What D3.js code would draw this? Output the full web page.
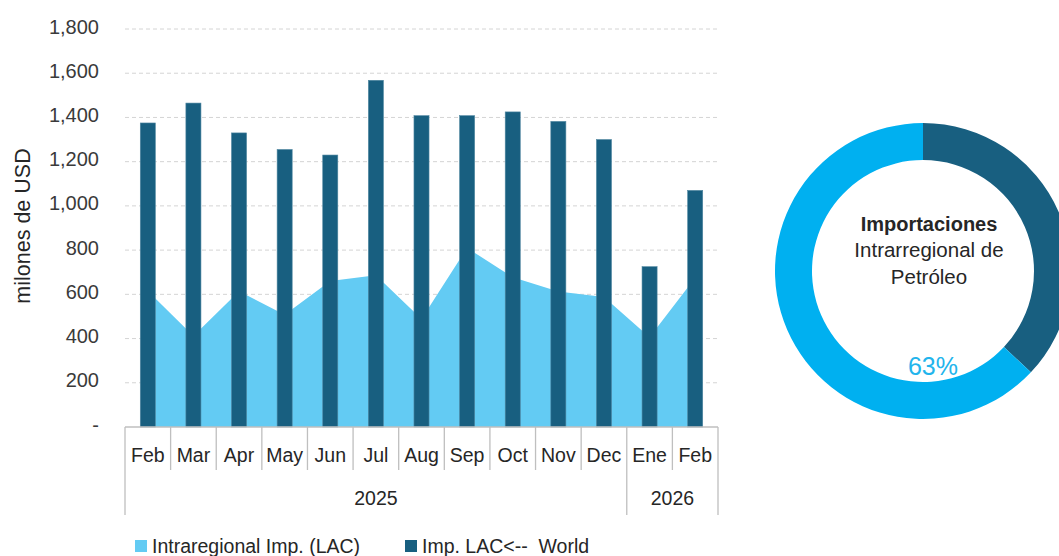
<!DOCTYPE html>
<html>
<head>
<meta charset="utf-8">
<script src="https://cdn.jsdelivr.net/npm/d3@7"></script>
<style>
  html, body { margin: 0; padding: 0; background: #ffffff; }
  svg { display: block; }
  text { font-family: "Liberation Sans", Arial, sans-serif; }
</style>
</head>
<body>
<svg id="chart" width="1059" height="556"></svg>
<script>
// ---------------- data ----------------
const months = ["Feb","Mar","Apr","May","Jun","Jul","Aug","Sep","Oct","Nov","Dec","Ene","Feb"];
const years  = ["2025","2025","2025","2025","2025","2025","2025","2025","2025","2025","2025","2026","2026"];
const worldImports = [1375,1465,1330,1255,1230,1568,1408,1408,1425,1382,1300,725,1070];
const intraImports = [615,412,614,508,660,686,488,810,677,613,588,406,675];
const yTicks = [0,200,400,600,800,1000,1200,1400,1600,1800];
const seriesNames = ["Intraregional Imp. (LAC)", "Imp. LAC<--  World"];
const donutNames = ["Resto", "Intrarregional"];
const donutValues = [37, 63];
const donutLabel = "63%";
const donutTitle = ["Importaciones", "Intrarregional de", "Petróleo"];
const yTitle = "milones de USD";

// ---------------- styles ----------------
const colDark = "#185f80";
const colArea = "#63cbf3";
const colRing = "#00b0f0";
const colPct = "#22b4ec";
const colText = "#262626";

const svg = d3.select("#chart");
const keys = months.map((m, i) => years[i] + "-" + m);

const x = d3.scaleBand().domain(keys).range([125, 718]).padding(0);
const y = d3.scaleLinear().domain([0, 1800]).range([427, 29]);

// gridlines
svg.append("g").selectAll("line")
  .data(yTicks.filter(t => t > 0))
  .join("line")
  .attr("x1", 125).attr("x2", 718)
  .attr("y1", d => y(d)).attr("y2", d => y(d))
  .attr("stroke", "#d4d4d4").attr("stroke-width", 1)
  .attr("stroke-dasharray", "4,3");

// area (intraregional)
const area = d3.area()
  .x((d, i) => x(keys[i]) + x.bandwidth() / 2)
  .y0(y(0))
  .y1(d => y(d));
svg.append("path")
  .datum(intraImports)
  .attr("d", area)
  .attr("fill", colArea);

// bars (world)
const barFrac = 0.33;
svg.append("g").selectAll("rect")
  .data(worldImports)
  .join("rect")
  .attr("x", (d, i) => x(keys[i]) + x.bandwidth() * (1 - barFrac) / 2)
  .attr("width", x.bandwidth() * barFrac)
  .attr("y", d => y(d))
  .attr("height", d => y(0) - y(d))
  .attr("fill", colDark)
  .attr("stroke", "#4f86a0").attr("stroke-width", 0.6);

// y axis labels
const yAxis = d3.axisLeft(y)
  .tickValues(yTicks)
  .tickSize(0)
  .tickPadding(26)
  .tickFormat(d => d === 0 ? "-" : d3.format(",")(d));
const yg = svg.append("g").attr("transform", "translate(125,0)").call(yAxis);
yg.select(".domain").remove();
yg.selectAll("text")
  .attr("font-size", 20)
  .attr("font-family", "Liberation Sans, Arial, sans-serif")
  .attr("fill", "#3a3a3a")
  .attr("dy", "0.2em");

// y title
svg.append("text")
  .attr("transform", "translate(30,226) rotate(-90)")
  .attr("text-anchor", "middle")
  .attr("font-size", 21.5)
  .attr("fill", colText)
  .text(yTitle);

// x axis line
svg.append("line")
  .attr("x1", 125).attr("x2", 718)
  .attr("y1", y(0)).attr("y2", y(0))
  .attr("stroke", "#bfbfbf").attr("stroke-width", 1.3);

// category separators
const boundaries = keys.map(k => x(k)).concat([x.range()[1]]);
const isYearBoundary = (i) => i === 0 || i === keys.length || years[i] !== years[i - 1];
svg.append("g").selectAll("line")
  .data(boundaries)
  .join("line")
  .attr("x1", d => d).attr("x2", d => d)
  .attr("y1", y(0))
  .attr("y2", (d, i) => isYearBoundary(i) ? 515 : 470)
  .attr("stroke", "#bfbfbf").attr("stroke-width", 1.3);

// month labels
svg.append("g").selectAll("text")
  .data(months)
  .join("text")
  .attr("x", (d, i) => x(keys[i]) + x.bandwidth() / 2)
  .attr("y", 462)
  .attr("text-anchor", "middle")
  .attr("font-size", 19.5)
  .attr("fill", colText)
  .text(d => d);

// year labels
const yearGroups = Array.from(new Set(years));
svg.append("g").selectAll("text")
  .data(yearGroups)
  .join("text")
  .attr("x", yr => {
    const idx = keys.map((k, i) => i).filter(i => years[i] === yr);
    const x0 = x(keys[idx[0]]);
    const x1 = x(keys[idx[idx.length - 1]]) + x.bandwidth();
    return (x0 + x1) / 2;
  })
  .attr("y", 505)
  .attr("text-anchor", "middle")
  .attr("font-size", 19.5)
  .attr("fill", colText)
  .text(d => d);

// legend
const legend = svg.append("g");
const legItems = [
  { name: seriesNames[0], color: colArea, x: 135 },
  { name: seriesNames[1], color: colDark, x: 405 }
];
legItems.forEach(it => {
  legend.append("rect")
    .attr("x", it.x).attr("y", 540)
    .attr("width", 12).attr("height", 12)
    .attr("fill", it.color);
  legend.append("text")
    .attr("x", it.x + 17).attr("y", 553)
    .attr("font-size", 19.5)
    .attr("xml:space", "preserve")
    .attr("fill", colText)
    .text(it.name);
});

// donut
const cx = 923, cy = 271;
const pie = d3.pie().sort(null).value(d => d);
const arc = d3.arc().innerRadius(111).outerRadius(148);
const dg = svg.append("g").attr("transform", `translate(${cx},${cy})`);
dg.selectAll("path")
  .data(pie(donutValues))
  .join("path")
  .attr("d", arc)
  .attr("fill", (d, i) => i === 0 ? colDark : colRing);

svg.append("text")
  .attr("x", 929).attr("y", 231)
  .attr("text-anchor", "middle")
  .attr("font-size", 20)
  .attr("font-weight", "bold")
  .attr("fill", colText)
  .text(donutTitle[0]);
svg.append("text")
  .attr("x", 929).attr("y", 257)
  .attr("text-anchor", "middle")
  .attr("font-size", 20.5)
  .attr("fill", colText)
  .text(donutTitle[1]);
svg.append("text")
  .attr("x", 929).attr("y", 284)
  .attr("text-anchor", "middle")
  .attr("font-size", 20.5)
  .attr("fill", colText)
  .text(donutTitle[2]);
svg.append("text")
  .attr("x", 933).attr("y", 375)
  .attr("text-anchor", "middle")
  .attr("font-size", 25)
  .attr("fill", colPct)
  .text(donutLabel);
</script>
</body>
</html>
